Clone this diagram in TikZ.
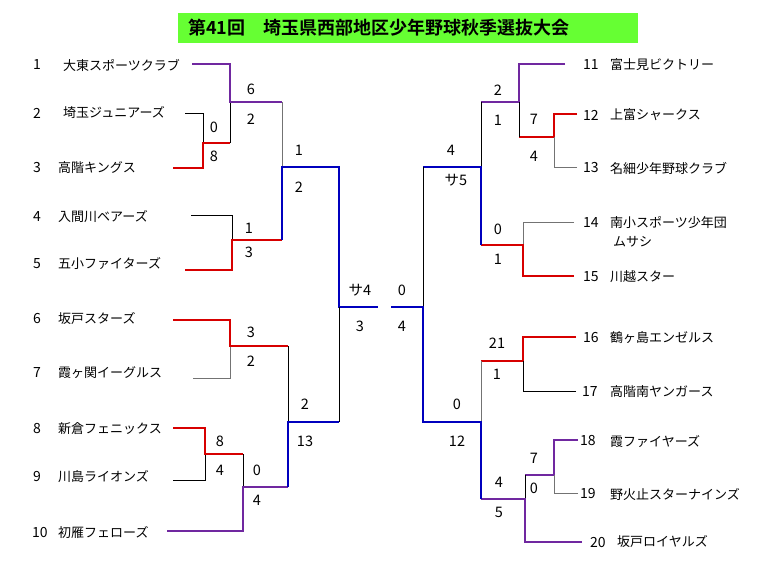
\documentclass[tikz,border=0pt]{standalone}
\usepackage{fontspec}
\setmainfont{Noto Sans CJK JP}[BoldFont={Noto Sans CJK JP Bold}]
\usetikzlibrary{calc}
\definecolor{Titelgruen}{RGB}{102,255,51}
\definecolor{Siegrot}{RGB}{215,0,0}
\definecolor{Siegblau}{RGB}{0,0,190}
\definecolor{Sieglila}{RGB}{112,40,160}

\begin{document}
\begin{tikzpicture}[x=1pt, y=-1pt,
		Linie/.style={line width=0.9pt, black},
		Grau/.style={line width=0.9pt, black!55},
		Rot/.style={line width=2.3pt, Siegrot},
		Blau/.style={line width=2.3pt, Siegblau},
		Lila/.style={line width=2.3pt, Sieglila},
		Nr/.style={anchor=west, inner sep=0pt, font=\fontsize{14}{16}\selectfont},
		Name/.style={anchor=west, inner sep=0pt, font=\fontsize{13}{16}\selectfont},
		Punkt/.style={inner sep=0pt, font=\fontsize{14.5}{16}\selectfont},
		Titel/.style={fill=Titelgruen, minimum width=460pt, minimum height=30pt, text width=440pt, inner xsep=10pt, align=left, font=\fontsize{18}{20}\selectfont\bfseries}]
				\useasboundingbox (0,0) rectangle (768,576);
				\node[Titel] (titel) at (408,28) {第41回　埼玉県西部地区少年野球秋季選抜大会};
				% linke Seite
				\node[Nr] (n1) at (33,65) {1};  \node[Name] (t1) at (63,65) {大東スポーツクラブ};
				\node[Nr] (n2) at (33,113) {2}; \node[Name] (t2) at (63,113) {埼玉ジュニアーズ};
				\node[Nr] (n3) at (33,168) {3}; \node[Name] (t3) at (58,168) {高階キングス};
				\node[Nr] (n4) at (33,217) {4}; \node[Name] (t4) at (58,217) {入間川ベアーズ};
				\node[Nr] (n5) at (33,264) {5}; \node[Name] (t5) at (58,264) {五小ファイターズ};
				\node[Nr] (n6) at (33,319) {6}; \node[Name] (t6) at (58,319) {坂戸スターズ};
				\node[Nr] (n7) at (33,373) {7}; \node[Name] (t7) at (58,373) {霞ヶ関イーグルス};
				\node[Nr] (n8) at (33,429) {8}; \node[Name] (t8) at (58,429) {新倉フェニックス};
				\node[Nr] (n9) at (33,477) {9}; \node[Name] (t9) at (58,477) {川島ライオンズ};
				\node[Nr] (n10) at (32,532) {10}; \node[Name] (t10) at (58,532) {初雁フェローズ};
				% rechte Seite
				\node[Nr] (n11) at (583,65) {11}; \node[Name] (t11) at (610,65) {富士見ビクトリー};
				\node[Nr] (n12) at (583,115) {12}; \node[Name] (t12) at (610,115) {上富シャークス};
				\node[Nr] (n13) at (583,168) {13}; \node[Name] (t13) at (610,168) {名細少年野球クラブ};
				\node[Nr] (n14) at (583,223) {14}; \node[Name] (t14) at (610,223) {南小スポーツ少年団};
				\node[Name] (t14b) at (613,242) {ムサシ};
				\node[Nr] (n15) at (583,277) {15}; \node[Name] (t15) at (610,277) {川越スター};
				\node[Nr] (n16) at (583,338) {16}; \node[Name] (t16) at (610,338) {鶴ヶ島エンゼルス};
				\node[Nr] (n17) at (582,392) {17}; \node[Name] (t17) at (610,392) {高階南ヤンガース};
				\node[Nr] (n18) at (580,441) {18}; \node[Name] (t18) at (610,441) {霞ファイヤーズ};
				\node[Nr] (n19) at (580,494) {19}; \node[Name] (t19) at (610,494) {野火止スターナインズ};
				\node[Nr] (n20) at (590,542) {20}; \node[Name] (t20) at (617,542) {坂戸ロイヤルズ};
				% Linienenden
				\coordinate (e1) at (192,64);  \coordinate (e2) at (185,113);
				\coordinate (e3) at (173,168); \coordinate (e4) at (191,215);
				\coordinate (e5) at (185,270); \coordinate (e6) at (173,320);
				\coordinate (e7) at (193,378); \coordinate (e8) at (173,428);
				\coordinate (e9) at (173,480); \coordinate (e10) at (167,531);
				\coordinate (e11) at (565,64); \coordinate (e12) at (577,114);
				\coordinate (e13) at (577,167); \coordinate (e14) at (574,222);
				\coordinate (e15) at (574,276); \coordinate (e16) at (576,337);
				\coordinate (e17) at (576,391); \coordinate (e18) at (578,440);
				\coordinate (e19) at (578,493); \coordinate (e20) at (582,542);
				% Knoten der Spiele
				\coordinate (k23) at (203,143);  \coordinate (k1) at (230,102);
				\coordinate (k45) at (232,240);  \coordinate (s1) at (282,167);
				\coordinate (k67) at (230,346);  \coordinate (k89) at (205,454);
				\coordinate (k10) at (243,487);  \coordinate (s2) at (288,422);
				\coordinate (f1) at (339,307);   \coordinate (z1) at (378,307);
				\coordinate (f2) at (423,307);   \coordinate (z2) at (391,307);
				\coordinate (s3) at (481,167);   \coordinate (k11) at (519,102);
				\coordinate (k1213) at (554,137); \coordinate (k1415) at (523,245);
				\coordinate (s4) at (481,422);   \coordinate (k1617) at (523,361);
				\coordinate (k1819) at (554,475); \coordinate (k20) at (525,499);
				% linker Block
				\draw[Linie] (e2) -| (k23);
				\draw[Rot] (e3) -| (k23) -- (k23 -| k1);
				\draw[Linie] (k23 -| k1) -- (k1);
				\draw[Lila] (e1) -| (k1) -- (k1 -| s1);
				\draw[Linie] (e4) -| (k45);
				\draw[Rot] (e5) -| (k45) -- (k45 -| s1);
				\draw[Grau] (k1 -| s1) -- (s1);
				\draw[Blau] (k45 -| s1) -- (s1) -- (s1 -| f1) -- (f1) -- (z1);
				\draw[Grau] (e7) -| (k67);
				\draw[Rot] (e6) -| (k67) -- (k67 -| s2);
				\draw[Linie] (e9) -| (k89);
				\draw[Rot] (e8) -| (k89) -- (k89 -| k10);
				\draw[Linie] (k89 -| k10) -- (k10);
				\draw[Lila] (e10) -| (k10) -- (k10 -| s2);
				\draw[Linie] (k67 -| s2) -- (s2);
				\draw[Blau] (k10 -| s2) -- (s2) -- (s2 -| f1);
				\draw[Linie] (s2 -| f1) -- (f1);
				% rechter Block
				\draw[Lila] (e11) -| (k11) -- (k11 -| s3);
				\draw[Rot] (e12) -| (k1213) -- (k1213 -| k11);
				\draw[Grau] (e13) -| (k1213);
				\draw[Linie] (k1213 -| k11) -- (k11);
				\draw[Grau] (e14) -| (k1415);
				\draw[Rot] (e15) -| (k1415) -- (k1415 -| s3);
				\draw[Linie] (k11 -| s3) -- (s3);
				\draw[Blau] (k1415 -| s3) -- (s3) -- (s3 -| f2);
				\draw[Linie] (s3 -| f2) -- (f2);
				\draw[Rot] (e16) -| (k1617) -- (k1617 -| s4);
				\draw[Linie] (e17) -| (k1617);
				\draw[Lila] (e18) -| (k1819) -- (k1819 -| k20);
				\draw[Grau] (e19) -| (k1819);
				\draw[Linie] (k1819 -| k20) -- (k20);
				\draw[Lila] (e20) -| (k20) -- (k20 -| s4);
				\draw[Grau] (k1617 -| s4) -- (s4);
				\draw[Blau] (k20 -| s4) -- (s4) -- (s4 -| f2) -- (f2) -- (z2);
				% Ergebnisse links
				\node[Punkt] (p1) at (214,127) {0};  \node[Punkt] (p2) at (214,156) {8};
				\node[Punkt] (p3) at (251,89) {6};   \node[Punkt] (p4) at (251,119) {2};
				\node[Punkt] (p5) at (249,228) {1};  \node[Punkt] (p6) at (249,252) {3};
				\node[Punkt] (p7) at (299,150) {1};  \node[Punkt] (p8) at (299,187) {2};
				\node[Punkt] (p9) at (251,332) {3};  \node[Punkt] (p10) at (251,361) {2};
				\node[Punkt] (p11) at (220,441) {8}; \node[Punkt] (p12) at (220,470) {4};
				\node[Punkt] (p13) at (257,470) {0}; \node[Punkt] (p14) at (257,500) {4};
				\node[Punkt] (p15) at (305,404) {2}; \node[Punkt] (p16) at (305,441) {13};
				\node[Punkt] (p17) at (360,290) {サ4}; \node[Punkt] (p18) at (360,326) {3};
				% Ergebnisse rechts
				\node[Punkt] (p19) at (402,290) {0}; \node[Punkt] (p20) at (402,326) {4};
				\node[Punkt] (p21) at (451,150) {4}; \node[Punkt] (p22) at (456,180) {サ5};
				\node[Punkt] (p23) at (498,90) {2};  \node[Punkt] (p24) at (498,120) {1};
				\node[Punkt] (p25) at (534,119) {7}; \node[Punkt] (p26) at (534,156) {4};
				\node[Punkt] (p27) at (498,229) {0}; \node[Punkt] (p28) at (498,259) {1};
				\node[Punkt] (p29) at (457,404) {0}; \node[Punkt] (p30) at (457,441) {12};
				\node[Punkt] (p31) at (497,343) {21}; \node[Punkt] (p32) at (497,374) {1};
				\node[Punkt] (p33) at (534,458) {7}; \node[Punkt] (p34) at (534,488) {0};
				\node[Punkt] (p35) at (499,482) {4}; \node[Punkt] (p36) at (499,512) {5};
			\end{tikzpicture}
\end{document}
